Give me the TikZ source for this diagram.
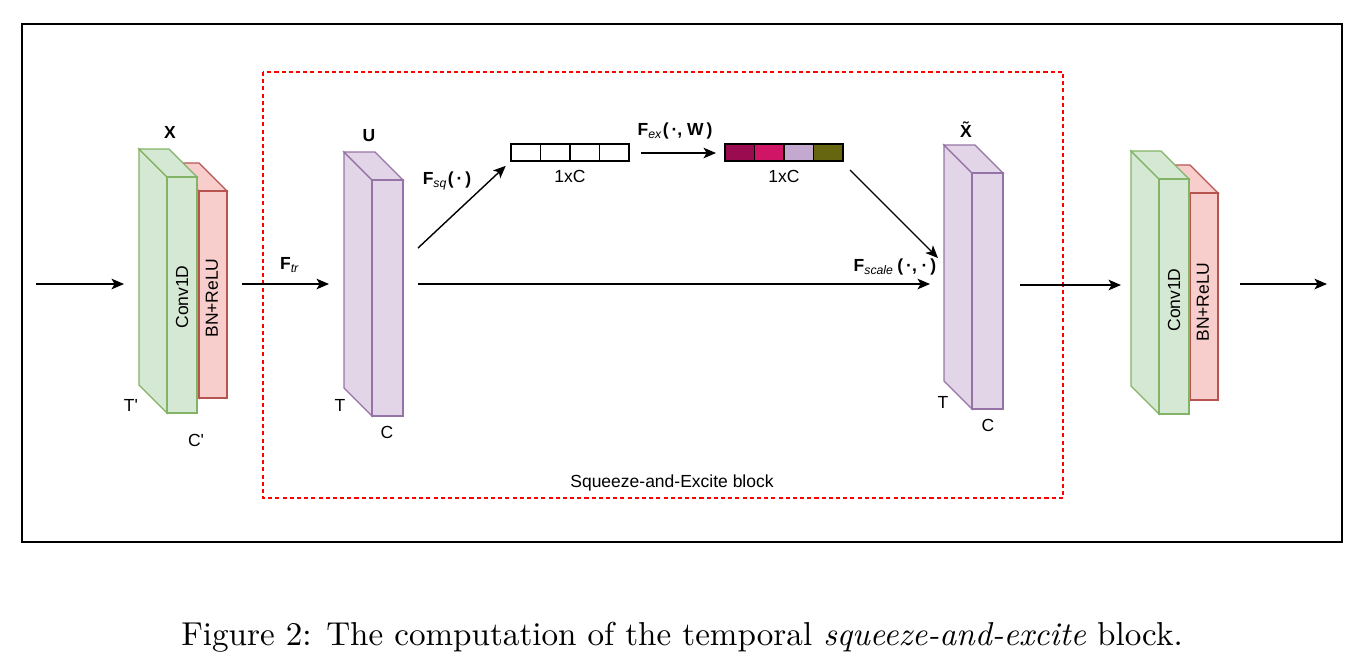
\documentclass[tikz,border=0pt]{standalone}
\usepackage{fontspec}
\newfontfamily\drawfont{Liberation Sans}
\usetikzlibrary{arrows.meta}

\definecolor{convfill}{HTML}{D5E8D4}
\definecolor{convline}{HTML}{82B366}
\definecolor{bnfill}{HTML}{F8CECC}
\definecolor{bnline}{HTML}{B85450}
\definecolor{mapfill}{HTML}{E1D5E7}
\definecolor{mapline}{HTML}{9673A6}
\definecolor{wone}{HTML}{9B0B4F}
\definecolor{wtwo}{HTML}{D01466}
\definecolor{wthree}{HTML}{C3A8CF}
\definecolor{wfour}{HTML}{666610}

% a slab drawn as a box: #1 name, #2 x, #3 y of the front face's top left, #4 width, #5 height, #6 style
\newcommand{\slab}[6]{
\draw [#6] (#2,#3) -- ++(-28,-28) -- ++(0,#5) -- ++(28,28) -- cycle;
\draw [#6] (#2,#3) -- ++(-28,-28) -- ++(#4,0) -- ++(28,28) -- cycle;
\draw [#6] (#2,#3) rectangle ++(#4,#5);
\coordinate (#1) at (#2+#4/2,#3+#5/2);
}

\begin{document}
\begin{tikzpicture}[x=0.32pt,y=-0.32pt,
  font=\drawfont\fontsize{5.6}{6.8}\selectfont,
  conv/.style={draw=convline,fill=convfill,line width=0.42pt},
  bn/.style={draw=bnline,fill=bnfill,line width=0.42pt},
  fmap/.style={draw=mapline,fill=mapfill,line width=0.42pt},
  flow/.style={-{Stealth[length=4pt,width=3.4pt,inset=1pt]},line width=0.45pt},
  tag/.style={inner sep=0pt}]
\useasboundingbox (0,0) rectangle (1365,667);

% frames
\draw [line width=0.45pt] (22,24) rectangle (1342,542);
\draw [red,dash pattern=on 1.3pt off 1pt,line width=0.42pt] (263,72) rectangle (1063,498);
\node (seblock) [tag] at (672,483) {Squeeze-and-Excite block};

% input block
\slab{bnA}{199}{191}{28}{207}{bn}
\slab{convA}{167}{177}{30}{236}{conv}
\node (convAtext) [tag,rotate=90] at (182,297) {Conv1D};
\node (bnAtext) [tag,rotate=90] at (212,298) {BN+ReLU};
\node (X) [tag] at (170,132) {\bfseries X};
\node (Tprime) [tag] at (131,405) {T'};
\node (Cprime) [tag] at (196,440) {C'};

% feature map U
\slab{U}{372}{180}{31}{236}{fmap}
\node (Ulabel) [tag] at (369,136) {\bfseries U};
\node (TU) [tag] at (340,405) {T};
\node (CU) [tag] at (387,432) {C};

% squeezed and excited vectors
\foreach \i in {0,...,3}
  \draw [line width=0.42pt] (511+29.5*\i,144) rectangle ++(29.5,17);
\node (sq) [inner sep=0pt,minimum width=37.8pt,minimum height=5.4pt] at (570,152.5) {};
\node (sqsize) [tag] at (570,176) {1xC};
\foreach \c [count=\i from 0] in {wone,wtwo,wthree,wfour}
  \draw [fill=\c,line width=0.42pt] (725+29.5*\i,144) rectangle ++(29.5,17);
\node (ex) [inner sep=0pt,minimum width=37.8pt,minimum height=5.4pt] at (784,152.5) {};
\node (exsize) [tag] at (784,176) {1xC};

% output feature map
\slab{Xt}{972}{173}{31}{236}{fmap}
\node (Xtlabel) [tag] at (966,130) {\bfseries \~{X}};
\node (TX) [tag] at (943,402) {T};
\node (CX) [tag] at (988,425) {C};

% output block
\slab{bnB}{1190}{193}{28}{207}{bn}
\slab{convB}{1159}{179}{30}{235}{conv}
\node (convBtext) [tag,rotate=90] at (1174,300) {Conv1D};
\node (bnBtext) [tag,rotate=90] at (1203,302) {BN+ReLU};

% arrows
\coordinate (inA) at (36,284);
\coordinate (inB) at (124,284);
\coordinate (trA) at (242,284);
\coordinate (trB) at (329,284);
\coordinate (sqA) at (418,248);
\coordinate (scA) at (418,284);
\coordinate (scB) at (930,284);
\coordinate (exA) at (641,153);
\coordinate (exB) at (716,153);
\coordinate (mulA) at (850,170);
\coordinate (mulB) at (938,258);
\coordinate (outA) at (1020,285);
\coordinate (outB) at (1121,285);
\coordinate (endA) at (1240,284);
\coordinate (endB) at (1327,284);
\draw [flow] (inA) -- (inB);
\draw [flow] (trA) -- (trB);
\draw [flow,shorten >=2pt] (sqA) -- (sq.south west);
\draw [flow] (exA) -- (exB);
\draw [flow] (mulA) -- (mulB);
\draw [flow] (scA) -- (scB);
\draw [flow] (outA) -- (outB);
\draw [flow] (endA) -- (endB);

\node (Ftr) [tag] at (290,265) {\bfseries F\textsubscript{\mdseries\itshape tr}};
\node (Fsq) [tag] at (447,181) {\bfseries F\textsubscript{\mdseries\itshape sq}(\,·\,)};
\node (Fex) [tag] at (675,131) {\bfseries F\textsubscript{\mdseries\itshape ex}(\,·, W\,)};
\node (Fscale) [tag] at (895,267) {\bfseries F\textsubscript{\mdseries\itshape scale}\,(\,·, ·\,)};

% caption
\node (caption) [tag,font=\fontsize{10.6}{12.7}\selectfont] at (682,637)
  {Figure 2: The computation of the temporal \textit{squeeze-and-excite} block.};
\end{tikzpicture}
\end{document}
